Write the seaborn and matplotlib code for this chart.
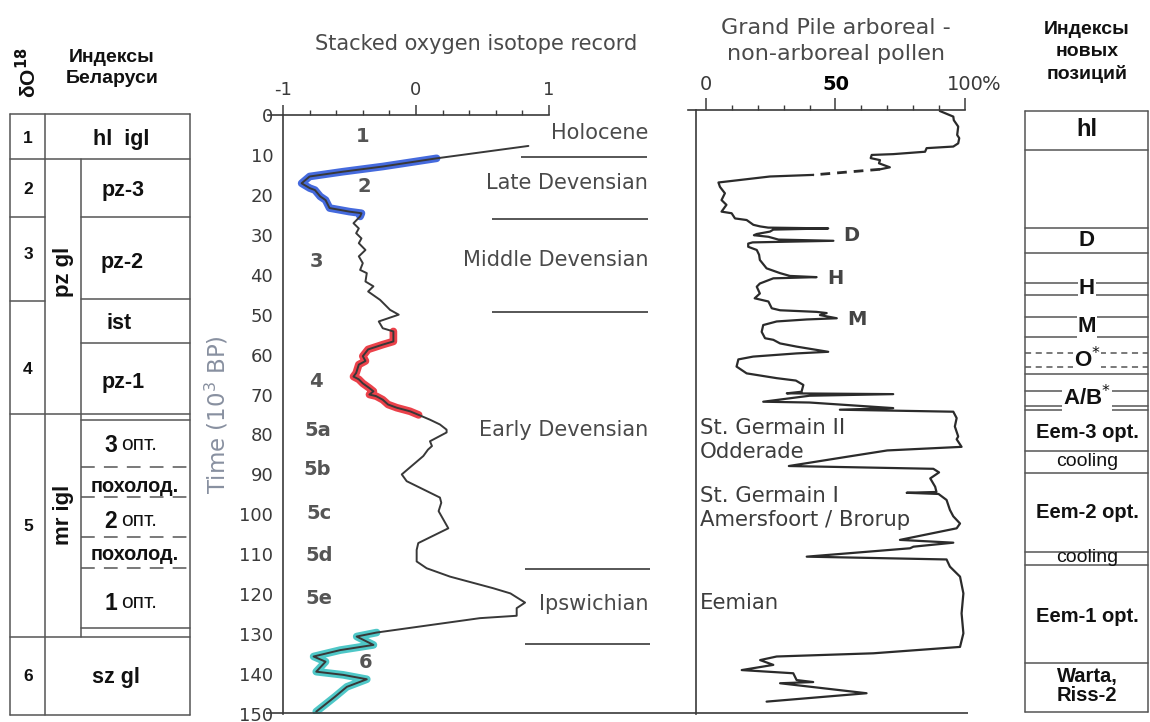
import numpy as np
import pandas as pd
import matplotlib
matplotlib.use("Agg")
import matplotlib.pyplot as plt
from matplotlib.ticker import FixedLocator
import seaborn as sns

W, H = 1150, 722

# ---------------- data: stacked oxygen isotope record ----------------
d18o_time = [7.75, 10.85, 12.9, 14.2, 15.4, 17.1, 18.3, 18.8, 20.4, 21.3, 23.3, 24.2, 24.6, 25.4,
             27.1, 28.4, 29.6, 30.9, 32.1, 33.8, 35.4, 37.1, 38.8, 39.6, 41.7, 42.9, 44.2, 46.3,
             48.8, 50.0, 51.7, 53.4, 54.2, 56.7, 57.5, 58.7, 60.4, 61.6, 62.5, 64.6, 65.5, 66.2,
             67.2, 68.4, 69.2, 70.0, 70.4, 71.3, 72.5, 73.3, 74.2, 75.1, 76.3, 77.5, 78.8, 79.5,
             81.7, 82.9, 83.8, 85.4, 90.0, 91.7, 95.8, 97.1, 99.2, 103.5, 107.2, 108.9, 111.8,
             113.5, 115.6, 118.5, 119.8, 122.1, 123.5, 125.4, 126.0, 129.6, 130.6, 132.7, 134.0,
             135.6, 136.9, 139.4, 140.2, 141.3, 143.2, 145.7, 149.4]
d18o_value = [0.845, 0.155, -0.25, -0.55, -0.80, -0.86, -0.80, -0.76, -0.72, -0.68, -0.65, -0.50, -0.41, -0.42,
              -0.47, -0.43, -0.45, -0.41, -0.43, -0.38, -0.43, -0.40, -0.42, -0.37, -0.38, -0.32, -0.36, -0.27,
              -0.195, -0.13, -0.28, -0.25, -0.17, -0.17, -0.25, -0.36, -0.40, -0.38, -0.43, -0.45, -0.47, -0.43,
              -0.40, -0.35, -0.32, -0.35, -0.30, -0.25, -0.21, -0.145, -0.045, 0.02, 0.105, 0.18, 0.23, 0.23,
              0.105, 0.12, 0.09, 0.055, -0.107, -0.07, 0.18, 0.19, 0.17, 0.243, 0.017, 0.005, 0.005,
              0.08, 0.256, 0.58, 0.71, 0.82, 0.757, 0.757, 0.48, -0.296, -0.446, -0.32, -0.57,
              -0.77, -0.68, -0.75, -0.547, -0.37, -0.52, -0.61, -0.75]
highlight_start = [10.85, 54.2, 129.6]
highlight_end = [25.4, 75.1, 149.4]
highlight_colors = ["#2450d8", "#e8202a", "#2fbdbd"]

stage_labels = ["1", "2", "3", "4", "5a", "5b", "5c", "5d", "5e", "6"]
stage_x = [-0.40, -0.39, -0.75, -0.75, -0.74, -0.74, -0.73, -0.73, -0.73, -0.376]
stage_y = [5.4, 18.0, 36.7, 66.7, 79.0, 88.7, 99.7, 110.4, 121.2, 137.2]

period_labels = ["Holocene", "Late Devensian", "Middle Devensian", "Early Devensian", "Ipswichian"]
period_y = [4.6, 17.1, 36.4, 78.8, 122.5]
boundary_y = [10.4, 26.0, 49.3, 113.6, 132.4]
boundary_x0 = [0.79, 0.57, 0.57, 0.82, 0.82]
boundary_x1 = [1.74, 1.745, 1.745, 1.76, 1.76]

time_ticks = list(range(0, 151, 10))
iso_ticks = [-1, 0, 1]
iso_ticklabels = ["-1", "0", "1"]
iso_minor = [-0.8, -0.6, -0.4, -0.2, 0.2, 0.4, 0.6, 0.8]

# ---------------- data: Grand Pile pollen ----------------
pollen_upper_time = [-1.0, 0.4, 1.3, 2.9, 5.0, 5.8, 7.1, 7.9, 8.3, 9.2, 9.8, 10.0, 10.8, 11.3, 12.1, 12.5, 13.1, 13.6]
pollen_upper_pct = [90.3, 95.5, 95.7, 97.4, 97.0, 97.8, 97.4, 95.5, 85.2, 84.6, 72.3, 64.0, 63.6, 67.2, 66.8, 68.5, 71.0, 67.2]
pollen_lower_time = [15.0, 15.4, 16.9, 18.0, 19.6, 21.3, 22.5, 24.2, 24.6, 25.9, 26.3, 27.5, 27.9, 28.2, 28.4, 28.7,
                     29.2, 29.8, 30.1, 30.5, 31.2, 31.5, 31.9, 32.2, 33.0, 33.8, 35.0, 36.3, 38.4, 39.6, 40.3,
                     40.6, 40.9, 42.2, 43.0, 44.7, 45.9, 46.7, 48.4, 48.9, 49.3, 49.6, 50.1, 50.9, 51.2, 51.7,
                     52.6, 54.3, 55.9, 56.3, 57.2, 58.0, 59.3, 59.7, 60.5, 61.2, 63.0, 64.7, 65.9, 66.5, 67.6,
                     69.3, 69.7, 69.9, 70.3, 71.8, 72.0, 73.4, 73.8, 74.3, 75.9, 78.0, 80.5, 81.2, 83.1, 84.0,
                     85.6, 87.9, 88.6, 89.5, 91.0, 93.1, 94.4, 94.6, 94.9, 96.4, 98.9, 100.5, 102.3, 103.5,
                     106.4, 107.1, 108.1, 108.5, 110.6, 111.3, 113.1, 115.6, 119.8, 124.8, 129.8, 133.2,
                     134.8, 135.6, 136.5, 137.7, 139.0, 139.8, 141.5, 142.0, 142.3, 144.8, 146.9]
pollen_lower_pct = [41.4, 24.7, 4.8, 5.4, 7.3, 6.0, 7.9, 6.0, 9.9, 11.2, 15.7, 18.3, 20.9, 24.0, 47.2, 26.0,
                    24.7, 19.6, 18.5, 24.1, 28.0, 49.2, 18.0, 16.3, 16.3, 19.6, 20.5, 20.8, 23.4, 28.6, 32.4,
                    42.7, 26.0, 20.8, 19.6, 20.8, 18.8, 24.1, 25.4, 28.6, 42.7, 46.6, 44.0, 50.5, 38.9, 27.3,
                    22.1, 21.5, 22.8, 26.0, 28.6, 35.0, 47.2, 35.0, 18.2, 12.5, 11.8, 15.7, 27.3, 34.7, 37.6,
                    36.9, 31.2, 72.3, 40.0, 22.1, 40.0, 72.3, 51.7, 95.5, 96.8, 96.1, 97.4, 96.8, 98.7, 70.0,
                    54.3, 32.0, 87.8, 90.0, 86.6, 88.5, 89.0, 77.5, 89.8, 92.9, 94.2, 95.5, 98.1, 96.8,
                    74.9, 95.5, 80.1, 78.8, 38.9, 92.9, 94.2, 98.1, 99.4, 98.7, 99.4, 98.1,
                    64.6, 27.3, 20.9, 26.0, 13.8, 33.7, 35.0, 41.4, 28.6, 62.0, 23.4]
pollen_marks = ["D", "H", "M"]
pollen_mark_x = [56.3, 49.8, 58.2]
pollen_mark_y = [30.3, 40.9, 51.2]
pollen_zone_labels = ["St. Germain II", "Odderade", "St. Germain I", "Amersfoort / Brorup", "Eemian"]
pollen_zone_y = [78.5, 84.3, 95.4, 101.4, 122.3]
pollen_ticks = [0, 50, 100]
pollen_ticklabels = ["0", "50", "100"]
pollen_minor = [10, 20, 30, 40, 60, 70, 80, 90]

# ---------------- data: left table (Belarus indices) ----------------
by_num = ["1", "2", "3", "4", "5", "6"]
by_num_y = [137, 188, 253, 368, 525, 675]
by_index = ["hl  igl", "pz-3", "pz-2", "ist", "pz-1", "sz gl"]
by_index_x = [121, 123, 122, 119, 123, 116]
by_index_y = [137, 188, 260, 321, 380, 675]
by_group = ["pz gl", "mr igl"]
by_group_y = [272, 515]
by_opt_num = ["3", "2", "1"]
by_opt_y = [443, 519, 601]
by_cool = ["похолод.", "похолод."]
by_cool_y = [485, 552]

# ---------------- data: right table (new positions) ----------------
new_index = ["hl", "D", "H", "M", "O$^{*}$", "A/B$^{*}$", "Eem-3 opt.", "cooling", "Eem-2 opt.",
             "cooling", "Eem-1 opt.", "Warta,\nRiss-2"]
new_index_y = [130, 241, 289, 327, 360, 398, 432, 462, 513, 558, 617, 686]
new_index_size = [17, 16, 16, 16, 16, 16, 14.5, 14, 14.5, 14, 14.5, 14.5]
new_index_weight = ["bold"] * 7 + ["normal", "bold", "normal", "bold", "bold"]
new_index_box = [False, False, True, True, True, True, False, False, False, False, False, False]

# ---------------- figure ----------------
sns.set_style("white")
plt.rcParams["font.family"] = ["DejaVu Sans"]
plt.rcParams["mathtext.fontset"] = "dejavusans"

fig = plt.figure(figsize=(W / 100, H / 100), dpi=100)
fig.patch.set_facecolor("white")


def rect(l, t, r, b):
    return [l / W, 1 - b / H, (r - l) / W, (b - t) / H]


GRAY = "#4a4a4a"

# ----- stacked oxygen isotope record -----
ax = fig.add_axes(rect(268, 115, 690, 714))
ax.patch.set_alpha(0)
df_iso = pd.DataFrame({"time": d18o_time, "d18o": d18o_value})
for t0, t1, col in zip(highlight_start, highlight_end, highlight_colors):
    seg = df_iso[(df_iso["time"] >= t0) & (df_iso["time"] <= t1)]
    sns.lineplot(data=seg, x="d18o", y="time", sort=False, estimator=None, color=col,
                 lw=5.5, alpha=0.85, ax=ax, solid_capstyle="round", solid_joinstyle="round")
sns.lineplot(data=df_iso, x="d18o", y="time", sort=False, estimator=None, color="#383838",
             lw=1.4, ax=ax)
ax.hlines(boundary_y, boundary_x0, boundary_x1, color="#3a3a3a", lw=1.2)
for s, x, y in zip(stage_labels, stage_x, stage_y):
    ax.text(x, y, s, ha="center", va="center", fontsize=14, fontweight="bold", color="#555555")
for s, y in zip(period_labels, period_y):
    ax.text(1.745, y, s, ha="right", va="center", fontsize=15, color=GRAY)

ax.set_xlim(-1.1128, 2.0602)
ax.set_ylim(150, 0)
ax.spines["right"].set_visible(False)
ax.spines["bottom"].set_visible(False)
ax.spines["left"].set_position(("data", -1))
ax.spines["top"].set_bounds(-1.1128, 1)
for sp in ("left", "top"):
    ax.spines[sp].set_color("#3a3a3a")
    ax.spines[sp].set_linewidth(1.2)
ax.xaxis.tick_top()
ax.set_xticks(iso_ticks)
ax.set_xticklabels(iso_ticklabels)
ax.xaxis.set_minor_locator(FixedLocator(iso_minor))
ax.tick_params(axis="x", which="major", direction="out", length=7.5, width=1.1, pad=4,
               labelsize=13, colors="#3a3a3a")
ax.tick_params(axis="x", which="minor", direction="out", length=3.5, width=1.0, colors="#3a3a3a", top=True, bottom=False)
ax.set_yticks(time_ticks)
ax.tick_params(axis="y", which="major", direction="out", length=5, width=1.1, pad=2,
               labelsize=13, colors="#3a3a3a")
ax.set_xlabel("")
ax.set_ylabel("Time (10$^3$ BP)", fontsize=16.5, color="#8890a0")
ax.yaxis.set_label_coords(-0.09, 0.5)

# ----- Grand Pile pollen -----
ax2 = fig.add_axes(rect(688, 110, 1010, 714))
ax2.patch.set_alpha(0)
df_up = pd.DataFrame({"time": pollen_upper_time, "pct": pollen_upper_pct})
df_lo = pd.DataFrame({"time": pollen_lower_time, "pct": pollen_lower_pct})
for d in (df_up, df_lo):
    sns.lineplot(data=d, x="pct", y="time", sort=False, estimator=None, color="#2b2b2b",
                 lw=1.6, ax=ax2)
ax2.plot([df_up["pct"].iloc[-1], df_lo["pct"].iloc[0]], [df_up["time"].iloc[-1], df_lo["time"].iloc[0]],
         color="#2b2b2b", lw=2.0, ls=(0, (3.5, 2.5)))
for s, x, y in zip(pollen_marks, pollen_mark_x, pollen_mark_y):
    ax2.text(x, y, s, ha="center", va="center", fontsize=14, fontweight="bold", color="#444444")
for s, y in zip(pollen_zone_labels, pollen_zone_y):
    ax2.text(-2.3, y, s, ha="left", va="center", fontsize=15.3, color="#3d3d3d")
ax2.set_xlim(-6.95, 117.4)
ax2.set_ylim(150, -1.252)
ax2.spines["right"].set_visible(False)
ax2.spines["bottom"].set_visible(False)
ax2.spines["left"].set_position(("data", -3.86))
ax2.spines["top"].set_bounds(-6.95, 100)
for sp in ("left", "top"):
    ax2.spines[sp].set_color("#3a3a3a")
    ax2.spines[sp].set_linewidth(1.2)
ax2.xaxis.tick_top()
ax2.set_xticks(pollen_ticks)
ax2.set_xticklabels(pollen_ticklabels)
ax2.xaxis.set_minor_locator(FixedLocator(pollen_minor))
ax2.tick_params(axis="x", which="major", direction="out", length=8.5, width=1.1, pad=3,
                labelsize=14, colors="#3a3a3a")
ax2.tick_params(axis="x", which="minor", direction="out", length=3.5, width=1.0, colors="#3a3a3a", top=True, bottom=False)
for lab in ax2.get_xticklabels():
    if lab.get_text() == "50":
        lab.set_fontweight("bold")
        lab.set_color("black")
ax2.set_yticks([])
ax2.set_xlabel("")
ax2.set_ylabel("")

# ----- overlay in pixel coordinates for titles, tables -----
ov = fig.add_axes([0, 0, 1, 1])
ov.set_xlim(0, W)
ov.set_ylim(H, 0)
ov.axis("off")

ov.text(476, 44, "Stacked oxygen isotope record", ha="center", va="center", fontsize=15, color=GRAY)
ov.text(836, 41, "Grand Pile arboreal -\nnon-arboreal pollen", ha="center", va="center", fontsize=16,
        color=GRAY, linespacing=1.35)
ov.text(982, 84, "%", ha="left", va="center", fontsize=14, color="#3a3a3a")
ov.plot([266, 968], [713, 713], color="#3a3a3a", lw=1.2, solid_capstyle="butt")

# left table
LC = "#555555"
TF = "Liberation Sans"
lw_t = 1.1
for y in [114, 159, 414, 637, 715]:
    ov.plot([10, 190], [y, y], color=LC, lw=lw_t)
for y in [217, 301]:
    ov.plot([10, 45], [y, y], color=LC, lw=lw_t)
for y in [217, 299, 343, 420, 628]:
    ov.plot([81, 190], [y, y], color=LC, lw=lw_t)
for y in [467, 497, 537, 568]:
    ov.plot([81, 190], [y, y], color=LC, lw=lw_t, ls=(0, (9, 6)))
ov.plot([10, 10], [114, 715], color=LC, lw=lw_t)
ov.plot([45, 45], [114, 715], color=LC, lw=lw_t)
ov.plot([81, 81], [159, 637], color=LC, lw=lw_t)
ov.plot([190, 190], [114, 715], color=LC, lw=lw_t)

ov.text(28, 73, "δO$^{\\mathbf{18}}$", rotation=90, ha="center", va="center", fontsize=15,
        fontweight="bold", family=TF, color="#111111")
ov.text(112, 68, "Индексы\nБеларуси", ha="center", va="center", fontsize=14, fontweight="bold",
        family=TF, color="#111111", linespacing=1.25)
for s, y in zip(by_num, by_num_y):
    ov.text(28, y, s, ha="center", va="center_baseline", fontsize=12.5, fontweight="bold", family=TF, color="#111111")
for s, x, y in zip(by_index, by_index_x, by_index_y):
    ov.text(x, y, s, ha="center", va="center_baseline", fontsize=15.5, fontweight="bold", family=TF, color="#111111")
for s, y in zip(by_group, by_group_y):
    ov.text(63, y, s, rotation=90, ha="center", va="center", fontsize=16, fontweight="bold", family=TF, color="#111111")
for s, y in zip(by_opt_num, by_opt_y):
    ov.text(117, y, s, ha="right", va="center_baseline", fontsize=16.5, fontweight="bold", family=TF, color="#111111")
    ov.text(121, y, "опт.", ha="left", va="center_baseline", fontsize=15, family=TF, color="#111111")
for s, y in zip(by_cool, by_cool_y):
    ov.text(135, y, s, ha="center", va="center_baseline", fontsize=14.3, fontweight="bold", family=TF, color="#111111")

# right table
for y in [111, 150, 228, 253, 283, 295, 317, 337, 374, 391, 406, 410, 451, 473, 552, 565, 663, 712]:
    ov.plot([1025, 1148], [y, y], color=LC, lw=lw_t)
for y in [353, 367]:
    ov.plot([1025, 1148], [y, y], color=LC, lw=lw_t, ls=(0, (4, 3)))
ov.plot([1025, 1025], [111, 712], color=LC, lw=lw_t)
ov.plot([1148, 1148], [111, 712], color=LC, lw=lw_t)
ov.text(1087, 52, "Индексы\nновых\nпозиций", ha="center", va="center", fontsize=14, fontweight="bold",
        family=TF, color="#111111", linespacing=1.4)
for s, y, fs, fw, bx in zip(new_index, new_index_y, new_index_size, new_index_weight, new_index_box):
    kw = {}
    if bx:
        kw["bbox"] = dict(facecolor="white", edgecolor="none", pad=0.5)
    ov.text(1087, y, s, ha="center", va="center", fontsize=fs, fontweight=fw, family=TF,
            color="#111111", linespacing=1.0, **kw)

fig.savefig("out.png", dpi=100, facecolor="white")
